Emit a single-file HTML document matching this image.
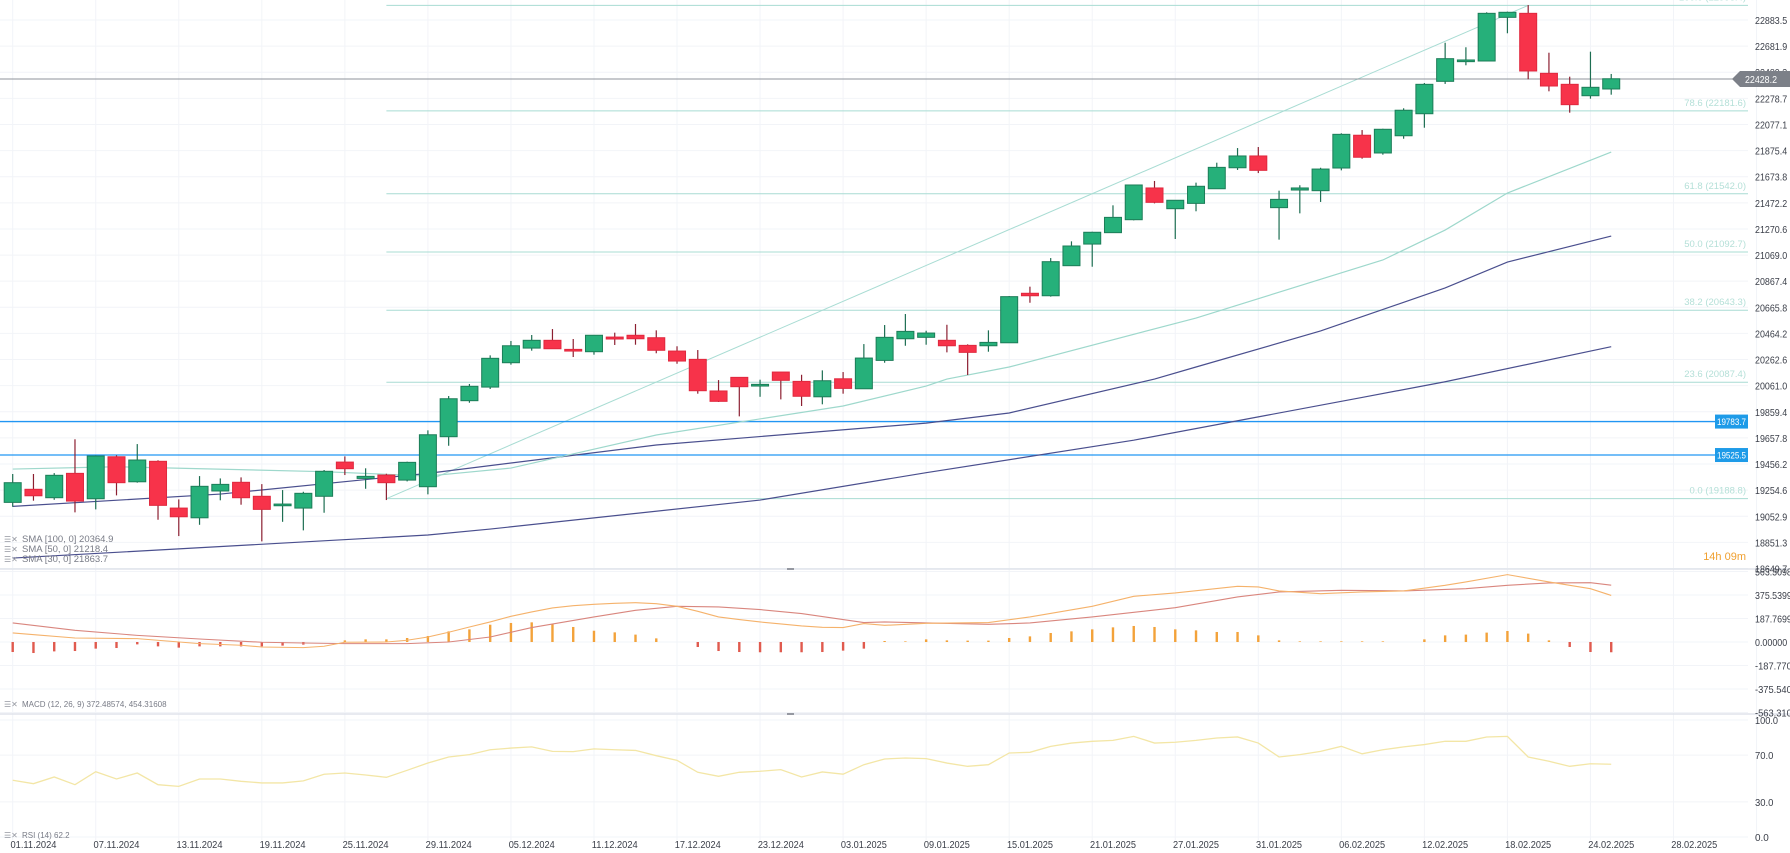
<!DOCTYPE html>
<html><head><meta charset="utf-8"><style>
html,body{margin:0;padding:0;background:#fff;}
svg{display:block;font-family:"Liberation Sans",sans-serif;}
</style></head><body>
<svg id="chart" width="1790" height="853" viewBox="0 0 1790 853" xmlns="http://www.w3.org/2000/svg">
<g id="grid"></g>
<g id="fib"></g>
<g id="smas"></g>
<g id="candles"></g>
<g id="macd"></g>
<g id="rsi"></g>
<g id="axes"></g>
</svg>
<script>
const opens=[19160,19261,19196,19384,19188,19512,19319,19477,19116,19041,19248,19315,19207,19134,19116,19207,19471,19345,19371,19332,19281,19667,19945,20050,20238,20351,20411,20341,20323,20436,20450,20431,20328,20264,20020,20125,20058,20166,20094,19975,20114,20037,20256,20423,20434,20411,20372,20369,20392,20774,20755,20987,21154,21242,21342,21587,21427,21468,21581,21743,21834,21435,21571,21566,21741,21994,21857,21990,22160,22410,22562,22567,22904,22935,22472,22387,22299,22351];
const highs=[19379,19379,19386,19647,19523,19523,19610,19485,19183,19363,19345,19353,19301,19255,19242,19410,19515,19423,19381,19474,19716,19981,20074,20295,20406,20452,20498,20421,20450,20470,20537,20488,20365,20336,20104,20125,20107,20166,20145,20179,20166,20382,20529,20614,20485,20531,20380,20488,20753,20825,21046,21175,21249,21453,21610,21641,21492,21628,21782,21895,21903,21566,21608,21743,22009,22034,22044,22202,22397,22708,22673,22943,22948,22999,22631,22446,22639,22467];
const lows=[19126,19173,19180,19083,19106,19214,19312,19026,18900,18987,19176,19142,18859,19010,18944,19080,19371,19265,19178,19322,19222,19597,19929,20035,20223,20331,20346,20282,20300,20375,20377,20311,20230,19999,19935,19824,19975,19955,19904,19917,19999,20037,20238,20369,20377,20318,20143,20323,20392,20701,20748,20987,20979,21242,21337,21468,21193,21407,21581,21726,21702,21188,21391,21479,21723,21813,21844,21967,22052,22390,22534,22567,22781,22426,22333,22168,22276,22307];
const closes=[19312,19211,19369,19170,19518,19312,19487,19137,19049,19284,19299,19196,19106,19147,19230,19400,19420,19361,19312,19469,19682,19960,20056,20272,20369,20411,20346,20328,20450,20421,20423,20334,20251,20022,19940,20053,20071,20102,19979,20099,20040,20274,20434,20480,20467,20369,20318,20395,20748,20755,21018,21139,21245,21360,21610,21476,21492,21600,21746,21834,21723,21499,21587,21733,22001,21824,22040,22187,22387,22585,22575,22935,22943,22490,22374,22230,22364,22430];
const sma30Idx=[0,5,15,20,24,31,40,44,45,48,57,66,69,72,77];
const sma30Val=[19417,19435,19397,19363,19425,19680,19904,20058,20112,20205,20583,21031,21262,21548,21864];
const sma50Idx=[0,10,20,31,44,48,55,57,63,69,72,77];
const sma50Val=[19129,19224,19384,19603,19772,19850,20112,20205,20483,20815,21015,21216];
const sma100Idx=[0,20,23,36,44,54,60,65,69,77];
const sma100Val=[18730,18908,18954,19178,19389,19640,19820,19970,20091,20362];
const fibLevels=[100.0,78.6,61.8,50.0,38.2,23.6,0.0];
const fibPrices=[22996.4,22181.6,21542.0,21092.7,20643.3,20087.4,19188.8];
const hLines=[19783.7,19525.5];
const lastPrice=22428.2;
const priceTicks=[22883.5,22681.9,22480.3,22278.7,22077.1,21875.4,21673.8,21472.2,21270.6,21069.0,20867.4,20665.8,20464.2,20262.6,20061.0,19859.4,19657.8,19456.2,19254.6,19052.9,18851.3,18649.7];
const macdHist=[-80,-88,-75,-72,-53,-48,-19,-35,-45,-35,-35,-35,-35,-29,-21,0,13,21,21,32,48,85,101,138,152,157,141,120,90,77,59,29,0,-40,-72,-80,-82,-82,-82,-80,-69,-53,8,5,21,13,11,11,32,45,72,85,101,117,128,120,101,93,80,80,53,13,5,5,5,5,5,0,21,53,59,75,88,67,13,-40,-80,-82];
const macdIdx=[0,3,6,9,11,12,14,15,16,18,19,20,21,22,23,24,25,26,27,28,29,30,31,32,33,34,35,36,37,38,39,40,41,42,44,47,49,52,54,56,59,60,61,63,65,67,69,70,72,74,76,77];
const macdVal=[72,32,27,-13,-26,-40,-45,-34,-2,0,14,40,78,120,160,205,240,272,290,301,309,314,306,285,245,200,179,160,144,128,117,115,147,133,149,155,200,285,365,392,445,440,408,386,400,408,453,480,538,480,426,372];
const sigIdx=[0,3,6,9,12,14,16,19,21,23,25,28,30,32,34,36,38,41,42,47,49,52,56,59,61,64,67,70,72,74,76,77];
const sigVal=[152,93,53,24,-2,-8,-13,-13,0,40,115,200,253,285,280,259,227,155,160,141,152,200,274,360,400,413,408,426,453,472,474,454];
const macdTicks=["563.3098","375.5399","187.7699","0.00000","-187.770","-375.540","-563.310"];
const macdTickVals=[563.31,375.54,187.77,0,-187.77,-375.54,-563.31];
const rsiVals=[48.5,45.6,51.3,44.7,55.8,49.6,54.7,44.7,43.3,49.6,49.6,47.6,46.2,46.2,48,53.6,54.7,53,51,57,63.2,68.4,70.4,74.6,76,77,73.2,73,75.3,74.6,74,69.5,65.5,55.3,51.9,55.3,56.2,57.6,51.3,55.6,53.7,61.8,66.7,67.5,67,63.2,60.4,61.8,71.8,72.4,77.5,80.3,81.8,82.6,86,80.3,81,82.6,84.6,85.5,80.3,68.4,70.4,73.2,77.5,71.1,74.6,77,79,81.8,81.8,85.5,86,68.4,64.7,60.4,62.6,62.2];
const rsiTicks=[100,70,30,0];
const dateLabels=["01.11.2024","07.11.2024","13.11.2024","19.11.2024","25.11.2024","29.11.2024","05.12.2024","11.12.2024","17.12.2024","23.12.2024","03.01.2025","09.01.2025","15.01.2025","21.01.2025","27.01.2025","31.01.2025","06.02.2025","12.02.2025","18.02.2025","24.02.2025","28.02.2025"];

const NS="http://www.w3.org/2000/svg";
const PLOT_R=1748;
const x=i=>12.7+20.76*i;
const yP=v=>20+(22883.5-v)*0.12955;
const yM=v=>642-v*0.1252;
const yR=v=>837-v*1.17;
function mk(tag,attrs,parent){const e=document.createElementNS(NS,tag);for(const k in attrs)e.setAttribute(k,attrs[k]);parent.appendChild(e);return e;}
const G=id=>document.getElementById(id);

const grid=G('grid');
priceTicks.forEach(v=>{const l=mk('line',{x1:0,x2:PLOT_R,y1:yP(v),y2:yP(v),stroke:'#f2f4f8','stroke-width':1},grid);

});
for(let i=0;i<=84;i+=4){const l=mk('line',{x1:x(i),x2:x(i),y1:0,y2:840,stroke:'#f2f4f8','stroke-width':1},grid);

}
macdTickVals.forEach(v=>{const l=mk('line',{x1:0,x2:PLOT_R,y1:yM(v),y2:yM(v),stroke:'#f2f4f8'},grid);

});
rsiTicks.forEach(v=>{const l=mk('line',{x1:0,x2:PLOT_R,y1:yR(v),y2:yR(v),stroke:'#f2f4f8'},grid);

});

const fib=G('fib');
fibPrices.forEach((p,k)=>{const y=yP(p);
const l=mk('line',{x1:x(18),x2:PLOT_R,y1:y,y2:y,stroke:'#a8dcd3','stroke-width':1},fib);


const t=mk('text',{x:PLOT_R-2,y:y-5,'text-anchor':'end','font-size':9.5,fill:'#b5e0d8'},fib);
t.textContent=fibLevels[k].toFixed(1)+' ('+p.toFixed(1)+')';

});
const tl=mk('line',{x1:x(18),y1:yP(fibPrices[6]),x2:x(73),y2:yP(fibPrices[0]),stroke:'#a8dcd3','stroke-width':1},fib);



hLines.forEach(p=>{const y=yP(p);
const l=mk('line',{x1:0,x2:PLOT_R,y1:y,y2:y,stroke:'#2196f3','stroke-width':1.3},fib);


const r=mk('rect',{x:1715,y:y-7,width:33,height:14,fill:'#1e9be8'},fib);


const t=mk('text',{x:1717,y:y+3.5,'font-size':9.5,fill:'#fff',textLength:29,lengthAdjust:'spacingAndGlyphs'},fib);
t.textContent=p.toFixed(1);

});

function poly(idx,vals,yf,color,name,parent,w){const pts=idx.map((i,k)=>x(i)+','+yf(vals[k])).join(' ');
const p=mk('polyline',{points:pts,fill:'none',stroke:color,'stroke-width':w||1.2},parent);

return p;}
const sm=G('smas');
poly(sma100Idx,sma100Val,yP,'#4a4f8e','sma-100-line',sm);
poly(sma50Idx,sma50Val,yP,'#4a4f8e','sma-50-line',sm);
poly(sma30Idx,sma30Val,yP,'#9ed8cc','sma-30-line',sm);

const pl=mk('line',{x1:0,x2:PLOT_R,y1:yP(lastPrice),y2:yP(lastPrice),stroke:'#8f939b','stroke-width':1},sm);



const cg=G('candles');
for(let i=0;i<opens.length;i++){const up=closes[i]>=opens[i];const cx=x(i);
const w=mk('line',{x1:cx,x2:cx,y1:yP(highs[i]),y2:yP(lows[i]),stroke:up?'#1d6e52':'#8c1f31','stroke-width':1.2},cg);


const top=yP(Math.max(opens[i],closes[i])),bot=yP(Math.min(opens[i],closes[i]));
const b=mk('rect',{x:cx-8.5,y:top,width:17,height:Math.max(1.5,bot-top),fill:up?'#26b07a':'#f7334a',stroke:up?'#1c7d58':'#e0283e','stroke-width':1},cg);

}

const mg=G('macd');
macdHist.forEach((v,i)=>{if(v===0)return;const y0=yM(0),y1=yM(v);
const r=mk('rect',{x:x(i)-1.2,y:Math.min(y0,y1),width:2.4,height:Math.abs(y1-y0),fill:v>0?'#f3a23a':'#e05a4e'},mg);

});
poly(sigIdx,sigVal,yM,'#d9867e','macd-signal-line',mg,1.1);
poly(macdIdx,macdVal,yM,'#f5b26b','macd-line',mg,1.1);

const rg=G('rsi');
poly(rsiVals.map((v,i)=>i),rsiVals,yR,'#f3e6a6','rsi-line',rg,1.3);

const ax=G('axes');
[569,714].forEach(y=>{const l=mk('line',{x1:0,x2:1790,y1:y,y2:y,stroke:'#e0e3eb','stroke-width':1.5},ax);


const h=mk('rect',{x:787,y:y-1,width:7,height:2,fill:'#9598a1'},ax);

});
function axText(s,y,name){const t=mk('text',{x:1755,y:y,'font-size':10.5,fill:'#3a3e48',textLength:s.length*4.6,lengthAdjust:'spacingAndGlyphs'},ax);t.textContent=s;

}
priceTicks.forEach(v=>axText(v.toFixed(1),yP(v)+4,'price-tick-label'));
macdTicks.forEach((s,k)=>axText(s,yM(macdTickVals[k])+4,'macd-tick-label'));
rsiTicks.forEach(v=>axText(v.toFixed(1),yR(v)+4,'rsi-tick-label'));
dateLabels.forEach((s,k)=>{const t=mk('text',{x:x(1+4*k),y:848,'text-anchor':'middle','font-size':10,fill:'#3a3e48',textLength:46,lengthAdjust:'spacingAndGlyphs'},ax);t.textContent=s;

});
const ly=yP(lastPrice);
const tag=mk('path',{d:`M1732 ${ly} L1740 ${ly-8} L1790 ${ly-8} L1790 ${ly+8} L1740 ${ly+8} Z`,fill:'#7c8088'},ax);


const lt=mk('text',{x:1745,y:ly+4,'font-size':10.5,fill:'#fff',textLength:32,lengthAdjust:'spacingAndGlyphs'},ax);lt.textContent=lastPrice.toFixed(1);


const cd=mk('text',{x:1746,y:560,'text-anchor':'end','font-size':11,fill:'#f0a030'},ax);cd.textContent='14h 09m';


const legends=[['SMA [100, 0] 20364.9',542,'sma-100-legend'],['SMA [50, 0] 21218.4',552,'sma-50-legend'],['SMA [30, 0] 21863.7',562,'sma-30-legend'],['MACD (12, 26, 9) 372.48574,  454.31608',707,'macd-legend'],['RSI (14) 62.2',838,'rsi-legend']];
legends.forEach(([s,y,n])=>{const ic=mk('text',{x:4,y:y,'font-size':8,fill:'#9598a1'},ax);ic.textContent='☰✕';


const t=mk('text',{x:22,y:y,'font-size':n.startsWith('sma')?9.5:8,fill:'#787b86'},ax);t.textContent=s;

});
</script>
</body></html>
